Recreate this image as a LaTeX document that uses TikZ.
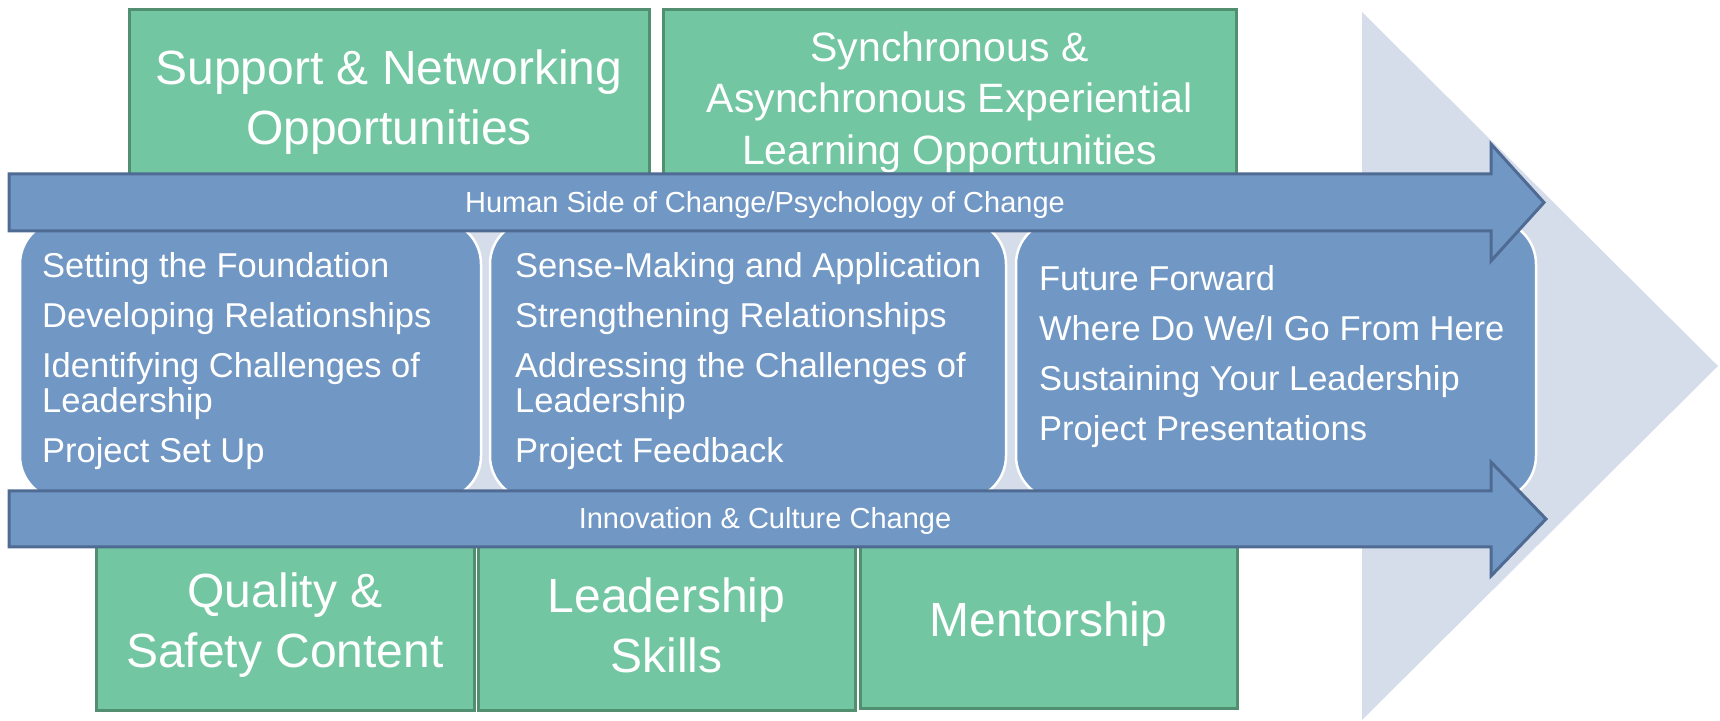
\documentclass[tikz,border=0pt]{standalone}
\usepackage{fontspec}
\setmainfont{Liberation Sans}
\usepackage{tikz}
\usetikzlibrary{
  positioning,
  calc
}
\definecolor{phaseBlue}{HTML}{7197C4}
\definecolor{bandLine}{HTML}{4F6B93}
\definecolor{topicGreen}{HTML}{73C6A2}
\definecolor{topicLine}{HTML}{528F71}
\definecolor{paleBlue}{HTML}{D6DDEA}
\tikzstyle{topic}=[draw=topicLine, fill=topicGreen, line width=1.5pt, text=white, align=center, inner sep=0pt]
\tikzstyle{band}=[draw=bandLine, fill=phaseBlue, line width=1.5pt, line join=miter]
\tikzstyle{bandtext}=[text=white, inner sep=0pt, font=\fontsize{14.5}{17}\selectfont]
\tikzstyle{phase}=[draw=white, fill=phaseBlue, line width=1.25pt, rounded corners=22pt, inner sep=0pt]
\tikzstyle{phasetext}=[text=white, align=left, anchor=west, inner sep=0pt, font=\fontsize{17.25}{17.5}\selectfont]

\begin{document}
\begin{tikzpicture}[x=0.5pt, y=-0.5pt]
      \useasboundingbox (0,0) rectangle (1720,721);
      \def\bigfont{\fontsize{24}{30}\selectfont}
      \def\midfont{\fontsize{20.5}{25.75}\selectfont}

      % background chevron
      \fill[paleBlue] (1362,12) -- (1718,366) -- (1362,720) -- cycle;

      % upper topics
      \node[topic, minimum width=260pt, minimum height=92pt, font=\bigfont] (support) at (389,102)
        {Support \& Networking\\Opportunities};
      \node[topic, minimum width=286.5pt, minimum height=92pt, font=\midfont] (learning) at (949.5,102)
        {Synchronous \&\\Asynchronous Experiential\\Learning Opportunities};

      % lower topics
      \node[topic, minimum width=189pt, minimum height=84.5pt, font=\bigfont] (quality) at (285,625.5)
        {Quality \&\\Safety Content};
      \node[topic, minimum width=188.5pt, minimum height=84.5pt, font=\bigfont] (skills) at (666.5,625.5)
        {Leadership\\Skills};
      \node[topic, minimum width=188.5pt, minimum height=84pt, font=\bigfont] (mentor) at (1048.5,624)
        {Mentorship};

      % gaps between the phases
      \fill[paleBlue] (462,225) rectangle (510,495);
      \fill[paleBlue] (986,225) rectangle (1036,495);

      % phases
      \node[phase, minimum width=230.5pt, minimum height=140pt] (phaseA) at (250.5,360) {};
      \node[phase, minimum width=258pt, minimum height=140pt] (phaseB) at (748,360) {};
      \node[phase, minimum width=260pt, minimum height=140pt] (phaseC) at (1276,360) {};

      \node[phasetext] (listA) at ([xshift=11.5pt,yshift=-0.5pt]phaseA.west)
        {Setting the Foundation\\[7.5pt]Developing Relationships\\[7.5pt]Identifying Challenges of\\Leadership\\[7.5pt]Project Set Up};
      \node[phasetext] (listB) at ([xshift=13pt,yshift=-0.5pt]phaseB.west)
        {Sense-Making and Application\\[7.5pt]Strengthening Relationships\\[7.5pt]Addressing the Challenges of\\Leadership\\[7.5pt]Project Feedback};
      \node[phasetext] (listC) at ([xshift=12pt,yshift=1.5pt]phaseC.west)
        {Future Forward\\[7.5pt]Where Do We/I Go From Here\\[7.5pt]Sustaining Your Leadership\\[7.5pt]Project Presentations};

      % upper band
      \draw[band] (9,174) -- (1491,174) -- (1491,144) -- (1544,202.5) -- (1491,261) -- (1491,231) -- (9,231) -- cycle;
      \node[bandtext] (human) at (765,205) {Human Side of Change/Psychology of Change};

      % lower band
      \draw[band] (9,491) -- (1491,491) -- (1491,462) -- (1546,519) -- (1491,576) -- (1491,547) -- (9,547) -- cycle;
      \node[bandtext] (culture) at (765,521) {Innovation \& Culture Change};
\end{tikzpicture}
\end{document}
